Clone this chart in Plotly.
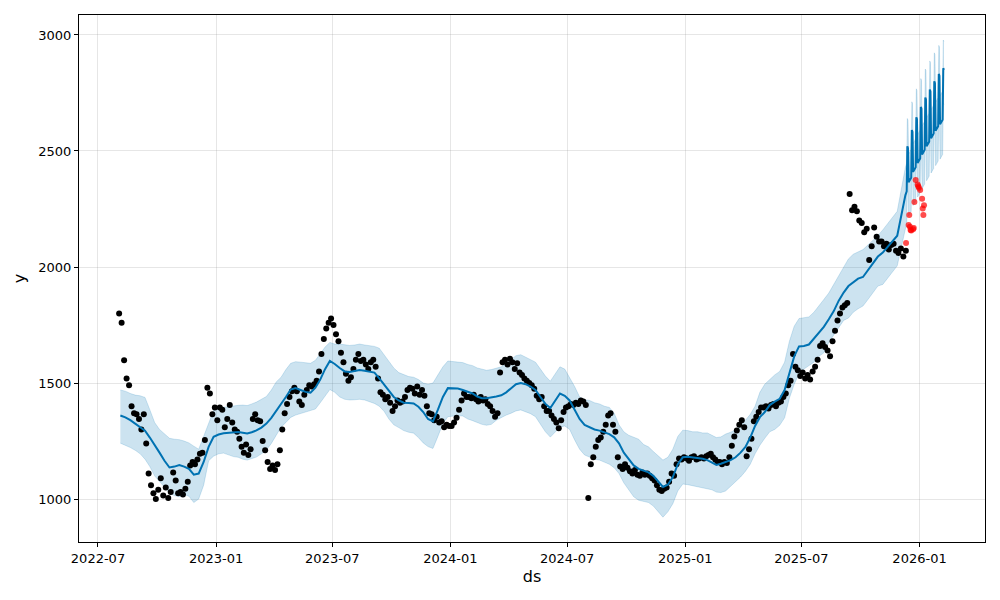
import pandas as pd
import plotly.graph_objects as go

# ---------------- observed history (black points), 8 readings per month ----------------
obs_2022 = [  # Aug .. Dec 2022
    1800, 1760, 1598, 1520, 1490, 1400, 1370, 1365,
    1345, 1300, 1365, 1240, 1110, 1060, 1025, 1000,
    1040, 1090, 1015, 1050, 1005, 1030, 1115, 1080,
    1025, 1030, 1020, 1045, 1075, 1145, 1160, 1150,
    1170, 1195, 1200, 1255, 1480, 1455, 1365, 1395,
]
obs_2023 = [
    1340, 1395, 1385, 1310, 1345, 1405, 1330, 1300,
    1290, 1260, 1225, 1200, 1235, 1190, 1215, 1345,
    1365, 1340, 1335, 1250, 1210, 1160, 1130, 1145,
    1125, 1150, 1210, 1300, 1370, 1410, 1440, 1465,
    1480, 1465, 1420, 1405, 1450, 1470, 1490, 1485,
    1495, 1510, 1550, 1625, 1690, 1735, 1760, 1778,
    1750, 1710, 1680, 1630, 1590, 1540, 1510, 1525,
    1560, 1600, 1625, 1595, 1600, 1580, 1560, 1590,
    1600, 1570, 1520, 1460, 1450, 1430, 1440, 1415,
    1380, 1400, 1425, 1415, 1420, 1440, 1470, 1480,
    1475, 1455, 1485, 1450, 1470, 1445, 1400, 1370,
    1365, 1340, 1355, 1330, 1335, 1310, 1320, 1315,
]
obs_2024 = [
    1315, 1330, 1350, 1385, 1425, 1455, 1440, 1440,
    1435, 1450, 1430, 1420, 1440, 1425, 1430, 1410,
    1400, 1380, 1355, 1370, 1545, 1590, 1600, 1580,
    1605, 1590, 1560, 1585, 1545, 1535, 1520, 1510,
    1500, 1490, 1475, 1445, 1430, 1440, 1400, 1380,
    1380, 1360, 1345, 1330, 1305, 1340, 1375, 1395,
    1400, 1410, 1405, 1415, 1410, 1425, 1420, 1405,
    1005, 1150, 1180, 1225, 1255, 1265, 1290, 1320,
    1360, 1370, 1320, 1290, 1180, 1140, 1130, 1150,
    1135, 1120, 1110, 1125, 1105, 1100, 1115, 1105,
    1110, 1100, 1090, 1080, 1060, 1040, 1035, 1045,
    1050, 1075, 1110, 1100, 1150, 1175, 1170, 1180,
]
obs_2025 = [
    1175, 1165, 1180, 1185, 1170, 1175, 1180, 1175,
    1185, 1190, 1195, 1180, 1170, 1160, 1160, 1150,
    1160, 1155, 1180, 1230, 1270, 1295, 1320, 1340,
    1310, 1185, 1215, 1260, 1335, 1355, 1375, 1395,
    1395, 1400, 1390, 1405, 1410, 1400, 1415, 1420,
    1440, 1455, 1490, 1510, 1625, 1570, 1555, 1530,
    1545, 1520, 1535, 1515, 1550, 1570, 1600, 1660,
    1672, 1655, 1640, 1615, 1680, 1725, 1770, 1800,
    1825, 1835, 1845, 2315, 2245, 2260, 2240, 2200,
    2190, 2150, 2165, 2030, 2090, 2170, 2130, 2110,
    2110, 2090, 2100, 2075, 2095, 2100, 2070, 2060,
    2080, 2045, 2070,
]

# ---------------- fitted history (4 per month, Aug 2022 .. Nov 2025) ----------------
hist_yhat = [
    1360, 1352, 1340, 1325, 1312, 1295, 1265, 1230, 1200, 1165, 1136, 1140,
    1147, 1140, 1130, 1105, 1110, 1160, 1225, 1268,
    1278, 1284, 1286, 1289, 1289, 1286, 1283, 1288, 1296, 1308, 1325, 1350,
    1380, 1405, 1440, 1472, 1478, 1470, 1462, 1458, 1480, 1515, 1560, 1595,
    1582, 1565, 1550, 1548, 1553, 1556, 1553, 1550, 1545, 1520, 1495, 1465,
    1440, 1425, 1415, 1414, 1412, 1398, 1375, 1345, 1335, 1385, 1440, 1478,
    1478, 1476, 1470, 1462, 1455, 1442, 1435, 1435, 1437, 1442, 1447, 1460,
    1478, 1495, 1500, 1495, 1485, 1470, 1440, 1410, 1392, 1425, 1455, 1445,
    1425, 1385, 1345, 1320, 1310, 1300, 1295, 1288, 1280, 1266, 1240, 1200,
    1170, 1145, 1130, 1122, 1115, 1100, 1078, 1052, 1062, 1095, 1150, 1180,
    1182, 1180, 1178, 1174, 1168, 1158, 1147, 1152, 1160, 1168, 1180, 1200,
    1225, 1265, 1315, 1353, 1375, 1405, 1420, 1432, 1470, 1545, 1615, 1658,
    1660, 1666, 1690, 1718, 1742, 1775, 1810, 1855, 1890, 1918, 1935, 1950,
    1957, 1985, 2015, 2045, 2062, 2086, 2108, 2135,
]
hist_upper = [
    1470, 1465, 1455, 1448, 1445, 1438, 1385, 1330, 1300, 1280, 1262, 1258,
    1256, 1250, 1242, 1228, 1215, 1270, 1330, 1382,
    1390, 1396, 1398, 1402, 1404, 1405, 1403, 1410, 1418, 1430, 1442, 1470,
    1505, 1525, 1558, 1585, 1592, 1590, 1588, 1585, 1598, 1625, 1655, 1675,
    1668, 1668, 1665, 1662, 1664, 1668, 1664, 1662, 1658, 1650, 1620, 1590,
    1565, 1545, 1535, 1528, 1525, 1515, 1500, 1495, 1500, 1535, 1570, 1595,
    1592, 1590, 1588, 1580, 1575, 1565, 1560, 1555, 1558, 1565, 1570, 1585,
    1600, 1618, 1622, 1612, 1602, 1590, 1560, 1530, 1508, 1540, 1570, 1560,
    1525, 1485, 1440, 1428, 1425, 1415, 1410, 1400, 1395, 1370, 1320, 1290,
    1275, 1265, 1258, 1235, 1225, 1205, 1185, 1168, 1180, 1215, 1270, 1297,
    1295, 1290, 1290, 1285, 1285, 1275, 1265, 1268, 1280, 1288, 1298, 1320,
    1340, 1365, 1400, 1460, 1495, 1515, 1535, 1550, 1590, 1680, 1745, 1778,
    1780, 1785, 1805, 1835, 1860, 1888, 1925, 1965, 2000, 2035, 2055, 2065,
    2075, 2095, 2115, 2135, 2160, 2185, 2210, 2240,
]
hist_lower = [
    1241, 1232, 1222, 1210, 1195, 1172, 1140, 1100, 1075, 1048, 1026, 1015,
    1010, 1020, 1012, 985, 1000, 1060, 1165, 1185,
    1195, 1198, 1190, 1183, 1180, 1172, 1168, 1176, 1181, 1195, 1211, 1240,
    1275, 1310, 1330, 1352, 1362, 1368, 1375, 1380, 1388, 1415, 1445, 1472,
    1460, 1440, 1430, 1427, 1428, 1430, 1427, 1420, 1412, 1400, 1378, 1345,
    1320, 1308, 1295, 1288, 1284, 1265, 1242, 1226, 1218, 1270, 1325, 1355,
    1358, 1360, 1358, 1345, 1338, 1330, 1322, 1318, 1322, 1340, 1352, 1362,
    1370, 1380, 1384, 1375, 1368, 1355, 1325, 1290, 1267, 1290, 1310, 1315,
    1300, 1255, 1215, 1190, 1180, 1172, 1168, 1160, 1150, 1135, 1110, 1070,
    1040, 1010, 995, 990, 985, 970, 945, 922, 945, 980, 1035, 1065,
    1062, 1058, 1052, 1050, 1045, 1040, 1030, 1028, 1035, 1055, 1075, 1095,
    1120, 1150, 1195, 1232, 1262, 1290, 1300, 1318, 1350, 1435, 1495, 1540,
    1560, 1575, 1590, 1615, 1630, 1675, 1705, 1740, 1770, 1780, 1805, 1820,
    1832, 1860, 1890, 1918, 1925, 1950, 1978, 2005,
]

# ---------------- daily forecast, 2025-12-10 .. 2026-02-08 ----------------
fut_yhat = [
    2310, 2318, 2326, 2520, 2512,
    2365, 2370, 2375, 2380, 2385, 2590, 2582,
    2410, 2415, 2420, 2425, 2430, 2645, 2637,
    2448, 2453, 2458, 2463, 2468, 2690, 2682,
    2485, 2490, 2495, 2500, 2505, 2730, 2722,
    2520, 2525, 2530, 2535, 2540, 2765, 2757,
    2555, 2560, 2565, 2570, 2575, 2800, 2792,
    2587, 2592, 2597, 2602, 2607, 2832, 2824,
    2615, 2620, 2625, 2630, 2635, 2857, 2850,
]
fut_upper = [
    2430, 2440, 2448, 2640, 2632,
    2487, 2492, 2497, 2503, 2508, 2712, 2705,
    2532, 2538, 2543, 2548, 2553, 2768, 2760,
    2570, 2576, 2581, 2586, 2591, 2812, 2805,
    2608, 2613, 2618, 2623, 2628, 2853, 2846,
    2643, 2648, 2653, 2658, 2663, 2888, 2880,
    2678, 2683, 2688, 2693, 2698, 2923, 2915,
    2710, 2715, 2720, 2725, 2730, 2955, 2948,
    2738, 2743, 2748, 2753, 2758, 2978, 2972,
]
fut_lower = [
    2165, 2172, 2180, 2375, 2367,
    2220, 2225, 2230, 2235, 2240, 2445, 2437,
    2265, 2270, 2275, 2280, 2285, 2500, 2492,
    2302, 2307, 2312, 2317, 2322, 2545, 2537,
    2338, 2343, 2348, 2353, 2358, 2585, 2577,
    2372, 2377, 2382, 2387, 2392, 2618, 2610,
    2405, 2410, 2415, 2420, 2425, 2652, 2644,
    2437, 2442, 2447, 2452, 2457, 2683, 2675,
    2465, 2470, 2475, 2480, 2485, 2708, 2700,
]

# ---------------- actual values after the training period (red) ----------------
test_dates = ["2025-12-11", "2025-12-15", "2025-12-16", "2025-12-17", "2025-12-18",
              "2025-12-19", "2025-12-22", "2025-12-23", "2025-12-24", "2025-12-26",
              "2025-12-29", "2025-12-30", "2025-12-31", "2026-01-02", "2026-01-05",
              "2026-01-06", "2026-01-07", "2026-01-08"]
test_y = [2103, 2181, 2224, 2174, 2160, 2157, 2163, 2168, 2280, 2375,
          2356, 2348, 2342, 2332, 2294, 2252, 2224, 2266]

tick_dates = ["2022-07-01", "2023-01-01", "2023-07-01", "2024-01-01",
              "2024-07-01", "2025-01-01", "2025-07-01", "2026-01-01"]
tick_text = ["2022-07", "2023-01", "2023-07", "2024-01",
             "2024-07", "2025-01", "2025-07", "2026-01"]
y_ticks = [1000, 1500, 2000, 2500, 3000]


def month_spread(year, month, values, per_month):
    out = []
    for i in range(len(values)):
        k, j = divmod(i, per_month)
        yy = year + (month - 1 + k) // 12
        mm = (month - 1 + k) % 12 + 1
        start = pd.Timestamp(yy, mm, 1)
        out.append(start + pd.Timedelta(days=(j + 0.5) * start.days_in_month / per_month))
    return out


obs_x = (month_spread(2022, 8, obs_2022, 8) + month_spread(2023, 1, obs_2023, 8)
         + month_spread(2024, 1, obs_2024, 8) + month_spread(2025, 1, obs_2025, 8))
obs_y = obs_2022 + obs_2023 + obs_2024 + obs_2025

fut_x = list(pd.date_range("2025-12-10", periods=len(fut_yhat), freq="D"))
fc_x = month_spread(2022, 8, hist_yhat, 4) + fut_x
fc_y = hist_yhat + fut_yhat
fc_lo = hist_lower + fut_lower
fc_hi = hist_upper + fut_upper

BLUE = "#0072B2"
fig = go.Figure()
fig.add_trace(go.Scatter(x=fc_x, y=fc_lo, mode="lines",
                         line=dict(color="rgba(0,114,178,0.22)", width=0.8),
                         hoverinfo="skip"))
fig.add_trace(go.Scatter(x=fc_x, y=fc_hi, mode="lines", fill="tonexty",
                         fillcolor="rgba(0,114,178,0.2)",
                         line=dict(color="rgba(0,114,178,0.22)", width=0.8),
                         hoverinfo="skip"))
fig.add_trace(go.Scatter(x=obs_x, y=obs_y, mode="markers",
                         marker=dict(color="black", size=6)))
fig.add_trace(go.Scatter(x=fc_x, y=fc_y, mode="lines",
                         line=dict(color=BLUE, width=2)))
fig.add_trace(go.Scatter(x=test_dates, y=test_y, mode="markers",
                         marker=dict(color="rgba(255,0,0,0.7)", size=6)))

axis_common = dict(showline=True, linecolor="black", linewidth=1, mirror=True,
                   ticks="outside", ticklen=4, tickcolor="black",
                   showgrid=True, gridcolor="rgba(128,128,128,0.2)", gridwidth=1,
                   zeroline=False, tickfont=dict(size=13, color="black"))

# the page adds an 8 px body margin, so the figure is sized to fit inside it
fig.update_layout(
    width=992, height=592,
    margin=dict(l=71, r=15, t=7, b=58),
    plot_bgcolor="white", paper_bgcolor="white",
    font=dict(family="DejaVu Sans", size=13, color="black"),
    showlegend=False,
    xaxis=dict(type="date", range=["2022-06-01 10:00", "2026-04-13"],
               tickvals=tick_dates, ticktext=tick_text,
               title=dict(text="ds", standoff=6), **axis_common),
    yaxis=dict(range=[815, 3086], tickvals=y_ticks,
               title=dict(text="y", standoff=8), **axis_common),
)

fig.write_html("out.html")
